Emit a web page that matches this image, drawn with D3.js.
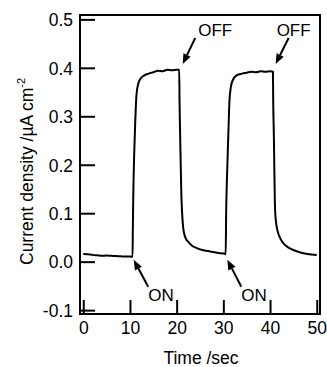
<!DOCTYPE html>
<html><head><meta charset="utf-8">
<script src="https://cdn.jsdelivr.net/npm/d3@7"></script>
<style>body{margin:0;background:#fff}svg{display:block}text{font-family:"Liberation Sans",Arial,Helvetica,sans-serif;fill:#000}</style>
</head><body><div id="chart"></div>
<script>
const time = [0,1,2,3,4,5,6,7,8,9,10,10.55,10.62,10.7,10.9,11.1,11.4,11.8,12.3,13,14,15,16,17,18,19,20,20.55,20.62,20.75,21.0,21.2,21.45,21.9,22.5,23.3,24.3,25.5,27.2,29,30.4,30.5,30.6,30.8,31.1,31.3,31.6,32,32.9,34,35,36,37,38,39,40,40.62,40.68,40.8,41.08,41.3,41.57,42.2,42.85,43.8,45,46.5,48,50];
const current = [0.016,0.0155,0.014,0.013,0.012,0.0125,0.012,0.0115,0.011,0.0105,0.0105,0.010,0.07,0.13,0.22,0.28,0.345,0.368,0.378,0.384,0.388,0.391,0.394,0.393,0.396,0.395,0.396,0.396,0.33,0.26,0.14,0.095,0.066,0.049,0.041,0.033,0.028,0.024,0.021,0.018,0.016,0.015,0.10,0.18,0.272,0.33,0.36,0.374,0.385,0.388,0.390,0.392,0.391,0.393,0.392,0.393,0.392,0.33,0.27,0.107,0.08,0.065,0.048,0.038,0.030,0.024,0.019,0.016,0.014];
const xTicks = [0,10,20,30,40,50];
const yTicks = [-0.1,0.0,0.1,0.2,0.3,0.4,0.5];
const noteLabels = ["OFF","OFF","ON","ON"];
const noteTimes = [21.3,41.2,10.8,30.85];
const noteValues = [0.408,0.408,0.004,0.004];

const W=327,H=367;
const svg=d3.select("#chart").append("svg").attr("width",W).attr("height",H);
const x=d3.scaleLinear().domain([-0.7,50.7]).range([80,320]);
const y=d3.scaleLinear().domain([-0.108,0.509]).range([314,15]);
const fmt=d=>d3.format(".1f")(d).replace("\u2212","-");

svg.append("rect").attr("x",80).attr("y",15).attr("width",240).attr("height",299)
  .attr("fill","none").attr("stroke","#000").attr("stroke-width",2);

const yAxis=d3.axisLeft(y).tickValues(yTicks).tickSize(-15).tickFormat(fmt);
const gy=svg.append("g").attr("transform","translate(80,0)").call(yAxis);
gy.select(".domain").remove();
gy.selectAll(".tick line").attr("stroke","#000").attr("stroke-width",2);
gy.selectAll(".tick text").attr("font-size",17.5).attr("x",-7).attr("dy","0.36em")
  .style("font-family",'"Liberation Sans",Arial,sans-serif');

const xAxis=d3.axisBottom(x).tickValues(xTicks).tickSize(-14).tickFormat(d3.format("d"));
const gx=svg.append("g").attr("transform","translate(0,314)").call(xAxis);
gx.select(".domain").remove();
gx.selectAll(".tick line").attr("stroke","#000").attr("stroke-width",2);
gx.selectAll(".tick text").attr("font-size",17.5).attr("y",8).attr("dy","0.71em")
  .style("font-family",'"Liberation Sans",Arial,sans-serif');

const data=time.map((t,i)=>({t,v:current[i]}));
svg.append("path").datum(data)
  .attr("d",d3.line().x(d=>x(d.t)).y(d=>y(d.v)).curve(d3.curveMonotoneX))
  .attr("fill","none").attr("stroke","#000").attr("stroke-width",2).attr("stroke-linejoin","round");

// annotation geometry: arrow tail offset and text offset relative to tail
const tailOff=[[12.5,-26],[13,-26],[14.5,27],[14,27]];
const textOff=[[3,-1.5],[-12,-1.5],[0,14.5],[0,14.5]];
noteLabels.forEach((lab,i)=>{
  const tx=x(noteTimes[i]), ty=y(noteValues[i]);
  const sx=tx+tailOff[i][0], sy=ty+tailOff[i][1];
  const ang=Math.atan2(ty-sy,tx-sx);
  const L=10, Wd=4;
  const bx=tx-L*Math.cos(ang), by=ty-L*Math.sin(ang);
  svg.append("line").attr("x1",sx).attr("y1",sy).attr("x2",bx).attr("y2",by)
    .attr("stroke","#000").attr("stroke-width",2);
  const px=-Math.sin(ang), py=Math.cos(ang);
  svg.append("path").attr("d",`M${tx},${ty}L${bx+px*Wd},${by+py*Wd}L${bx-px*Wd},${by-py*Wd}Z`).attr("fill","#000");
  svg.append("text").attr("x",sx+textOff[i][0]).attr("y",sy+textOff[i][1])
    .attr("font-size",17).text(lab);
});

svg.append("text").attr("x",201).attr("y",364).attr("text-anchor","middle").attr("font-size",17.5).text("Time /sec");
const yl=svg.append("text").attr("transform","translate(33,265) rotate(-90)").attr("font-size",17.5);
yl.append("tspan").text("Current density /\u00b5A cm");
yl.append("tspan").attr("font-size",11).attr("dy",-8).text("-2");
</script></body></html>
